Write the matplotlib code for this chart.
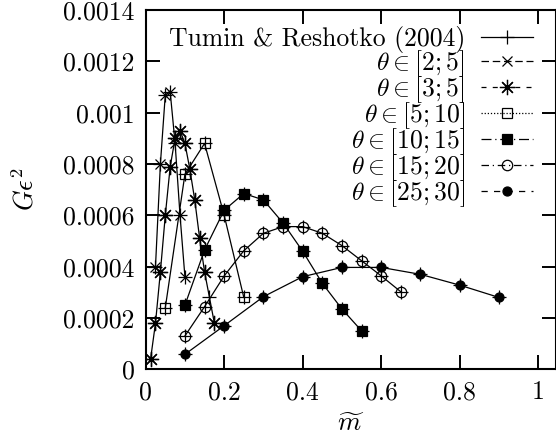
import matplotlib
matplotlib.use("Agg")
import matplotlib.pyplot as plt
from matplotlib.lines import Line2D
from matplotlib.ticker import FuncFormatter

plt.rcParams['font.family'] = 'serif'
plt.rcParams['font.serif'] = ['cmr10', 'DejaVu Serif']
plt.rcParams['mathtext.fontset'] = 'cm'
plt.rcParams['axes.unicode_minus'] = False

# ---- data ----
m_2_5 = [0.025, 0.0375, 0.05, 0.0625, 0.075, 0.0875, 0.1]
g_2_5 = [0.00040, 0.00080, 0.00107, 0.00108, 0.00088, 0.00060, 0.00036]

m_3_5 = [0.0125, 0.025, 0.0375, 0.05, 0.0625, 0.075, 0.0875, 0.1, 0.1125, 0.125, 0.1375, 0.15, 0.1625, 0.175]
g_3_5 = [0.00004, 0.00018, 0.00038, 0.00060, 0.00079, 0.00090, 0.00093, 0.00088, 0.00078, 0.00066, 0.00051, 0.00038, 0.00028, 0.00018]

m_5_10 = [0.05, 0.1, 0.15, 0.2, 0.25]
g_5_10 = [0.00024, 0.00076, 0.00088, 0.00060, 0.00028]

m_10_15 = [0.1, 0.15, 0.2, 0.25, 0.3, 0.35, 0.4, 0.45, 0.5, 0.55]
g_10_15 = [0.00025, 0.000465, 0.00062, 0.000685, 0.00066, 0.00057, 0.00046, 0.000335, 0.000235, 0.00015]

m_15_20 = [0.1, 0.15, 0.2, 0.25, 0.3, 0.35, 0.4, 0.45, 0.5, 0.55, 0.6, 0.65]
g_15_20 = [0.00013, 0.000244, 0.000364, 0.000462, 0.00053, 0.000556, 0.000556, 0.00053, 0.000482, 0.000423, 0.000364, 0.000302]

m_25_30 = [0.1, 0.2, 0.3, 0.4, 0.5, 0.6, 0.7, 0.8, 0.9]
g_25_30 = [0.0000584, 0.00017, 0.000283, 0.000361, 0.000397, 0.000397, 0.00037, 0.000328, 0.00028]

labels = [r'$\theta \in [2;5]$', r'$\theta \in [3;5]$', r'$\theta \in [5;10]$',
          r'$\theta \in [10;15]$', r'$\theta \in [15;20]$', r'$\theta \in [25;30]$']
ref_label = 'Tumin & Reshotko (2004)'

xticks = [0, 0.2, 0.4, 0.6, 0.8, 1.0]
yticks = [0, 0.0002, 0.0004, 0.0006, 0.0008, 0.001, 0.0012, 0.0014]

series = [(m_2_5, g_2_5), (m_3_5, g_3_5), (m_5_10, g_5_10),
          (m_10_15, g_10_15), (m_15_20, g_15_20), (m_25_30, g_25_30)]

# ---- styles ----
mk = [dict(marker='x', ms=6.5, mew=0.9, mfc='black'),
      dict(marker=(8, 2, 0), ms=11, mew=0.9),
      dict(marker='s', ms=7, mew=0.9, mfc='none'),
      dict(marker='s', ms=7, mew=0.9, mfc='black'),
      dict(marker='o', ms=7.5, mew=0.9, mfc='none'),
      dict(marker='o', ms=6.5, mew=0.9, mfc='black')]
ls_leg = [(0, (6, 3)), (0, (4, 5)), (0, (1, 1.5)), (0, (8, 3, 1, 3)), (0, (6, 3, 1, 3)), (0, (5, 5))]

fig = plt.figure(figsize=(5.56, 4.44), dpi=100)
ax = fig.add_axes([0.262, 0.1682, 0.7378, 0.8093])

for i, (m, g) in enumerate(series):
    every = None
    if i == 1:
        every = [k for k in range(len(m)) if k != 12]
    ax.plot(m, g, linestyle='none', color='black', markevery=every, zorder=2, **mk[i])
    # Tumin & Reshotko solid line with + markers
    ax.plot(m, g, color='black', lw=0.9, marker='+', ms=10, mew=0.9, zorder=3)

ax.set_xlim(0, 1.045)
ax.set_ylim(0, 0.0014)
ax.set_xticks(xticks)
ax.set_yticks(yticks)
fmt = FuncFormatter(lambda v, p: '%g' % v)
ax.xaxis.set_major_formatter(fmt)
ax.yaxis.set_major_formatter(fmt)
ax.tick_params(direction='in', length=10, width=1.4, top=True, right=True,
               labelsize=18.5, pad=8)
for s in ax.spines.values():
    s.set_linewidth(1.5)

ax.set_xlabel(r'$\widetilde{m}$', fontsize=19, labelpad=6)
ax.set_ylabel(r'$G\epsilon^2$', fontsize=19, labelpad=18)

handles = [Line2D([], [], color='black', lw=0.9, marker='+', ms=10, mew=0.9)]
for i in range(6):
    handles.append(Line2D([], [], color='black', lw=0.9, linestyle=ls_leg[i], **mk[i]))
leg = ax.legend(handles, [ref_label] + labels, loc='upper right',
                bbox_to_anchor=(0.976, 0.99), frameon=False, fontsize=18.5,
                markerfirst=False, handlelength=2.05, handletextpad=0.6,
                labelspacing=-0.19, borderpad=0, numpoints=1)
for col in leg._legend_handle_box.get_children():
    col.align = 'right'

fig.savefig('out.png', dpi=100)
